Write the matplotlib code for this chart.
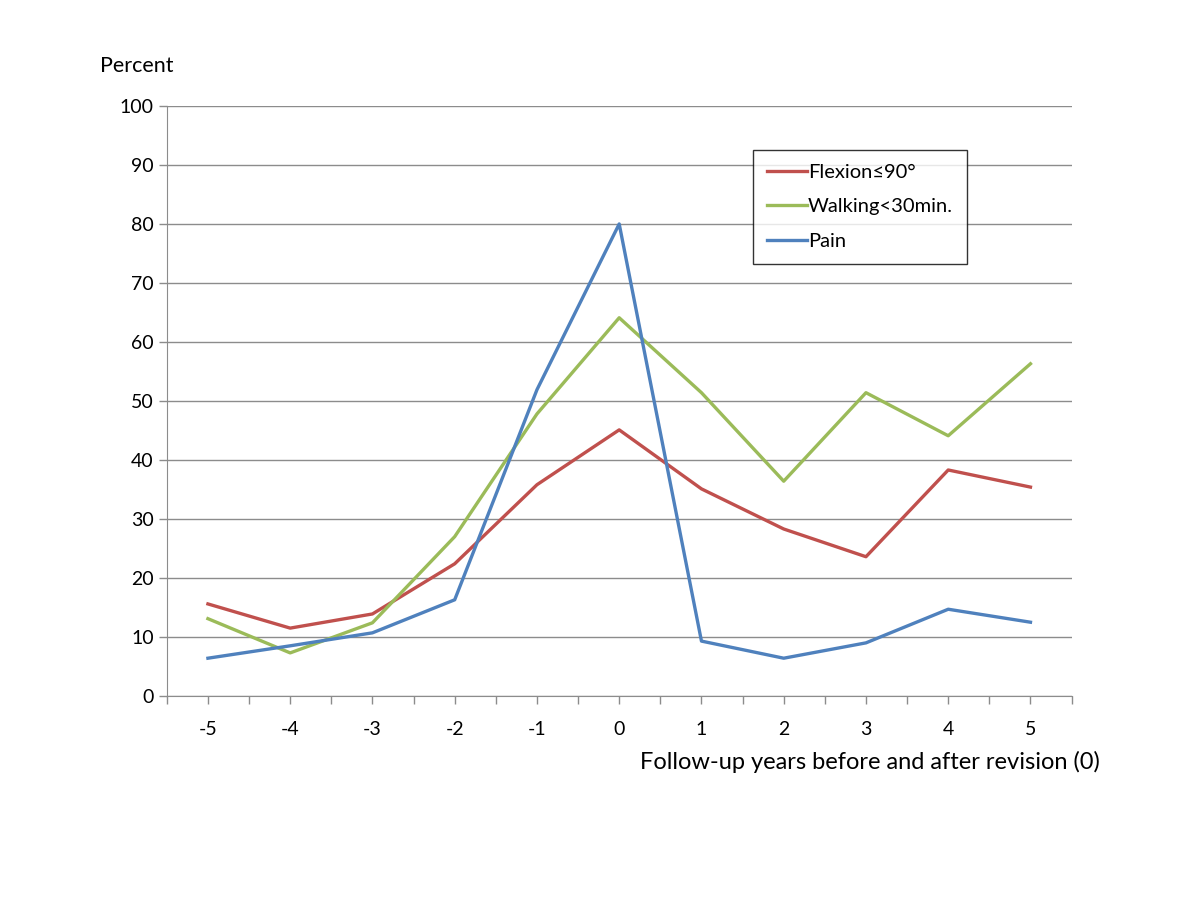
import numpy as np
import matplotlib.pyplot as plt

plt.rcParams['font.family'] = ['Lato', 'DejaVu Sans']
plt.rcParams['axes.unicode_minus'] = False

years = [-5, -4, -3, -2, -1, 0, 1, 2, 3, 4, 5]
flexion = [15.6, 11.5, 13.9, 22.4, 35.8, 45.1, 35.1, 28.3, 23.6, 38.3, 35.4]
walking = [13.1, 7.3, 12.4, 27.0, 47.8, 64.1, 51.4, 36.4, 51.4, 44.1, 56.3]
pain = [6.4, 8.5, 10.7, 16.3, 51.9, 80.0, 9.3, 6.4, 9.0, 14.7, 12.5]

fig = plt.figure(figsize=(12, 9), dpi=100)
ax = fig.add_axes([0.139, 0.2267, 0.754, 0.6556])

ax.plot(years, flexion, color='#C0504D', lw=2.4, label='Flexion≤90°')
ax.plot(years, walking, color='#9BBB59', lw=2.4, label='Walking<30min.')
ax.plot(years, pain, color='#4F81BD', lw=2.4, label='Pain')

ax.set_xlim(-5.5, 5.5)
ax.set_ylim(0, 100)
ax.set_yticks(range(0, 101, 10))
ax.set_xticks(years)
ax.set_xticks(np.arange(-5.5, 5.6, 1), minor=True)
ax.grid(axis='y', color='#8c8c8c', lw=1)
ax.set_axisbelow(True)

for s in ['top', 'right']:
    ax.spines[s].set_visible(False)
for s in ['left', 'bottom']:
    ax.spines[s].set_color('#8c8c8c')
ax.tick_params(which='both', color='#8c8c8c', length=6, width=1)
ax.tick_params(axis='x', which='major', pad=12)
ax.tick_params(labelsize=14)

fig.text(100 / 1200, 1 - 66 / 900, 'Percent', fontsize=15.5, ha='left', va='center')
fig.text(1100 / 1200, 1 - 762 / 900, 'Follow-up years before and after revision (0)',
         fontsize=17, ha='right', va='center')

leg = ax.legend(loc='upper left', bbox_to_anchor=((753 - 167) / 905, (696 - 150) / 590),
                frameon=True, fancybox=False, fontsize=14.5, handlelength=2.0,
                handletextpad=0.05, labelspacing=0.85, borderpad=0.7, borderaxespad=0)
leg.get_frame().set_edgecolor('black')
leg.get_frame().set_linewidth(1)

fig.savefig('out.png')
